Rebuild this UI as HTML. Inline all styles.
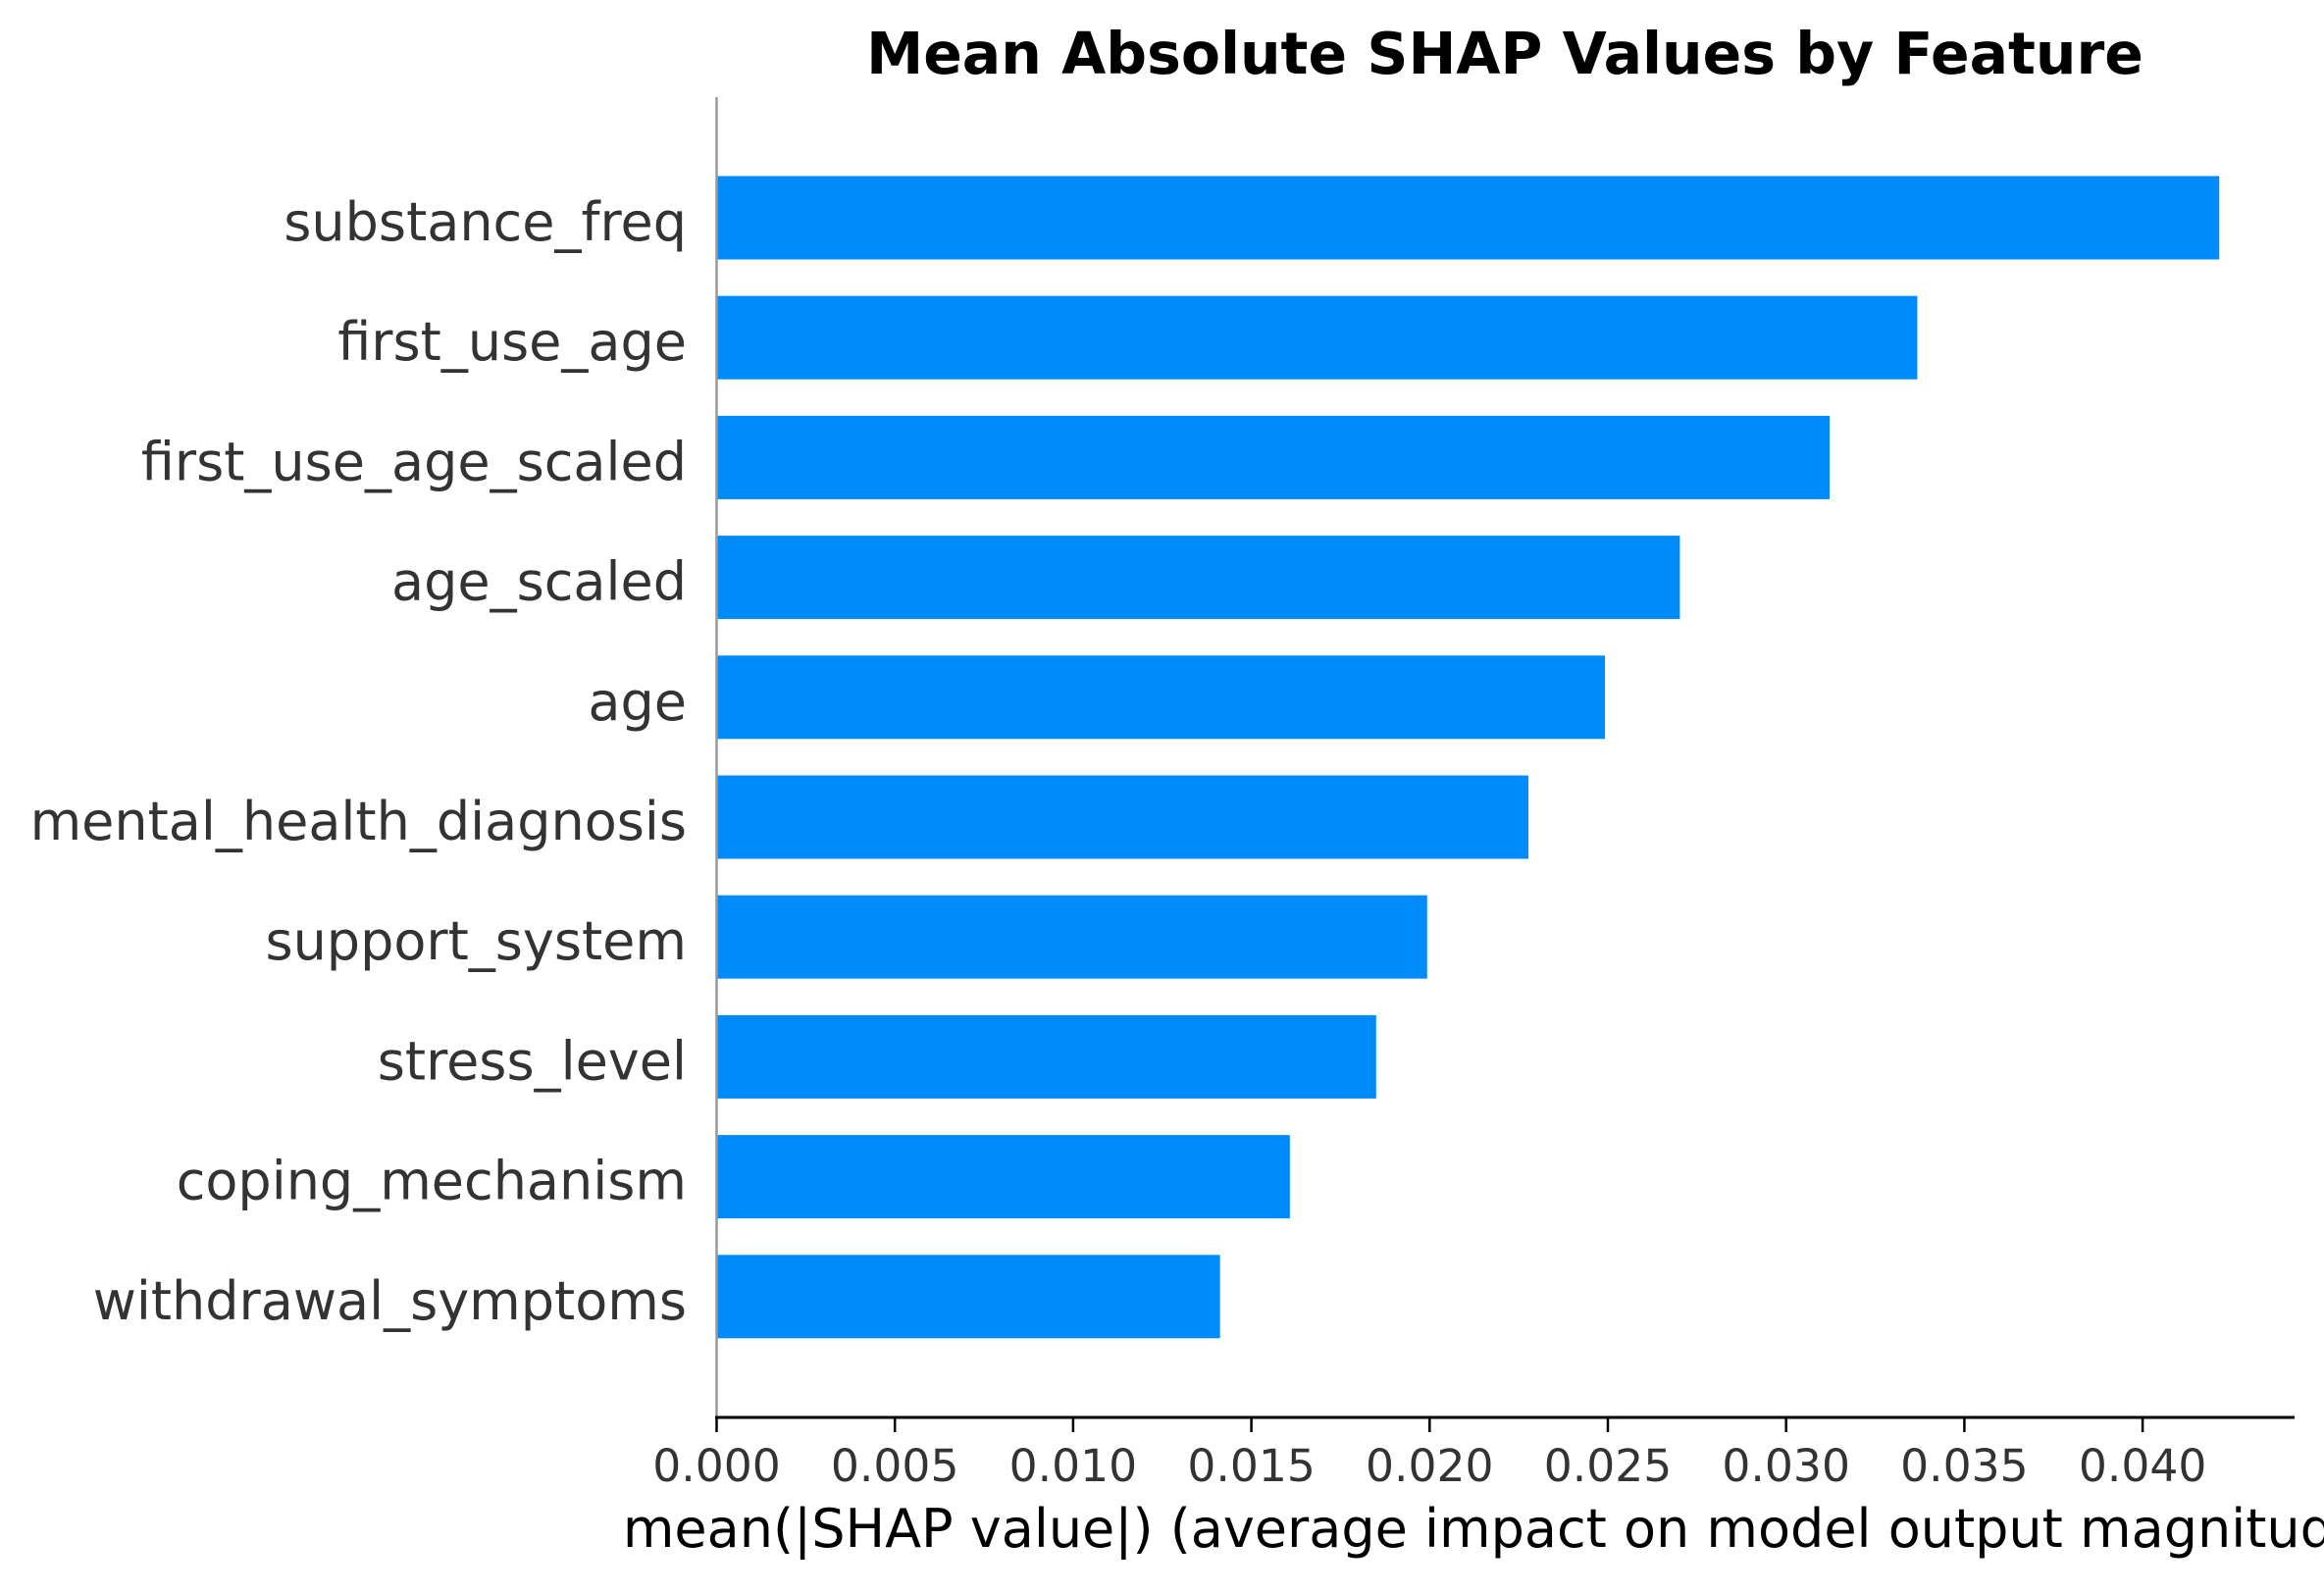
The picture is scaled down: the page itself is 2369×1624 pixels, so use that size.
<!DOCTYPE html>
<html><head><meta charset="utf-8"><style>
html,body{margin:0;padding:0;background:#fff;}
svg text{font-family:"DejaVu Sans","Liberation Sans",sans-serif;}
</style></head><body>
<svg id="chart" width="2369" height="1619" viewBox="0 0 2369 1619" xmlns="http://www.w3.org/2000/svg">
<text x="1534" y="75" text-anchor="middle" font-size="58.4" font-weight="bold" fill="#000">Mean Absolute SHAP Values by Feature</text>
<g id="bars"></g>
<g id="ylabels"></g>
<g id="xticks"></g>
<line x1="730.5" y1="99" x2="730.5" y2="1445" stroke="#999" stroke-width="2.5"/>
<line x1="729" y1="1445" x2="2339" y2="1445" stroke="#000" stroke-width="3"/>
<text x="1534" y="1577" text-anchor="middle" font-size="54" fill="#000">mean(|SHAP value|) (average impact on model output magnitude)</text>
</svg>
<script>
const features = ["substance_freq","first_use_age","first_use_age_scaled","age_scaled","age","mental_health_diagnosis","support_system","stress_level","coping_mechanism","withdrawal_symptoms"];
const values = [0.04215,0.03368,0.03122,0.02702,0.02492,0.02277,0.01993,0.01850,0.01608,0.01412];
const tickValues = [0,0.005,0.010,0.015,0.020,0.025,0.030,0.035,0.040];
const tickLabels = ["0.000","0.005","0.010","0.015","0.020","0.025","0.030","0.035","0.040"];

const NS = "http://www.w3.org/2000/svg";
const x0 = 730.5, pxPerUnit = 36340;
function xScale(v){ return x0 + v*pxPerUnit; }
const yTop = 222, pitch = 122.2, barH = 85;
function yScale(i){ return yTop + i*pitch; }

const gb = document.getElementById('bars');
const gl = document.getElementById('ylabels');
features.forEach((f,i)=>{
  const r = document.createElementNS(NS,'rect');
  r.setAttribute('x', xScale(0));
  r.setAttribute('y', yScale(i)-barH/2);
  r.setAttribute('width', xScale(values[i])-xScale(0));
  r.setAttribute('height', barH);
  r.setAttribute('fill', '#008bfb');
  
  
  gb.appendChild(r);
  const t = document.createElementNS(NS,'text');
  t.setAttribute('x', 700);
  t.setAttribute('y', yScale(i)+23);
  t.setAttribute('text-anchor','end');
  t.setAttribute('font-size','54');
  t.setAttribute('fill','#333');
  t.textContent = f;
  
  
  gl.appendChild(t);
});
const gx = document.getElementById('xticks');
tickValues.forEach((v,i)=>{
  const l = document.createElementNS(NS,'line');
  l.setAttribute('x1', xScale(v)); l.setAttribute('x2', xScale(v));
  l.setAttribute('y1', 1445); l.setAttribute('y2', 1460);
  l.setAttribute('stroke','#000'); l.setAttribute('stroke-width','2.5');
  
  
  gx.appendChild(l);
  const t = document.createElementNS(NS,'text');
  t.setAttribute('x', xScale(v));
  t.setAttribute('y', 1510);
  t.setAttribute('text-anchor','middle');
  t.setAttribute('font-size','45.6');
  t.setAttribute('fill','#333');
  t.textContent = tickLabels[i];
  
  
  gx.appendChild(t);
});
</script>
</body></html>
